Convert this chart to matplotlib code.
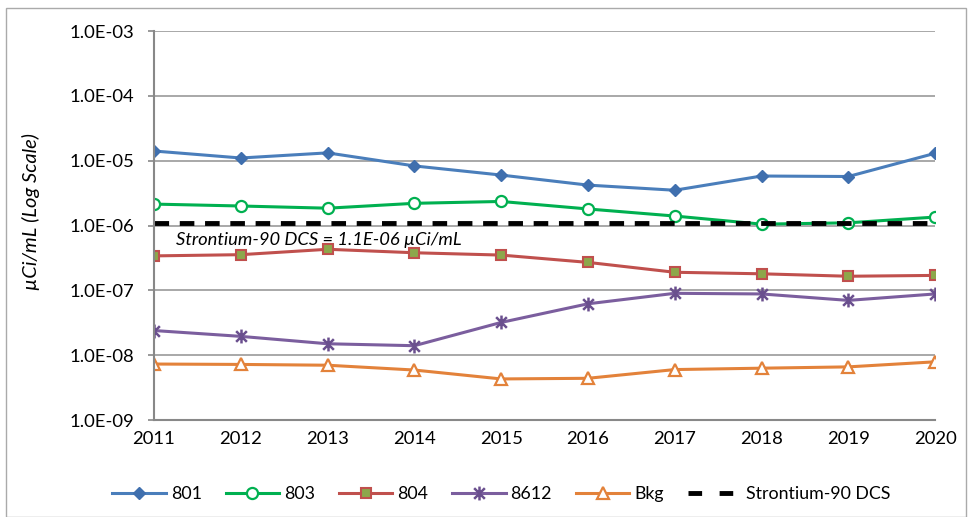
import matplotlib
matplotlib.use('Agg')
import matplotlib.pyplot as plt
from matplotlib.patches import Rectangle
from matplotlib.path import Path

# data
years = [2011, 2012, 2013, 2014, 2015, 2016, 2017, 2018, 2019, 2020]
s801 = [1.41e-5, 1.1e-5, 1.32e-5, 8.3e-6, 6.0e-6, 4.2e-6, 3.5e-6, 5.8e-6, 5.7e-6, 1.3e-5]
s803 = [2.14e-6, 2.0e-6, 1.85e-6, 2.2e-6, 2.35e-6, 1.8e-6, 1.4e-6, 1.05e-6, 1.1e-6, 1.35e-6]
s804 = [3.4e-7, 3.55e-7, 4.3e-7, 3.8e-7, 3.5e-7, 2.7e-7, 1.9e-7, 1.8e-7, 1.65e-7, 1.7e-7]
s8612 = [2.4e-8, 1.95e-8, 1.5e-8, 1.4e-8, 3.2e-8, 6.2e-8, 9.0e-8, 8.8e-8, 7.0e-8, 8.8e-8]
bkg = [7.3e-9, 7.2e-9, 7.0e-9, 5.9e-9, 4.3e-9, 4.4e-9, 6.0e-9, 6.3e-9, 6.6e-9, 7.9e-9]
dcs = 1.1e-6
yticks = [1e-9, 1e-8, 1e-7, 1e-6, 1e-5, 1e-4, 1e-3]
ytick_labels = ['1.0E-09', '1.0E-08', '1.0E-07', '1.0E-06', '1.0E-05', '1.0E-04', '1.0E-03']

plt.rcParams['font.family'] = ['Lato', 'DejaVu Sans']

# excel-like star: an x with a vertical bar through it
star = Path([(-1, -1), (1, 1), (-1, 1), (1, -1), (0, -1.3), (0, 1.3)],
            [Path.MOVETO, Path.LINETO, Path.MOVETO, Path.LINETO, Path.MOVETO, Path.LINETO])

fig = plt.figure(figsize=(9.7, 5.17), dpi=100)
ax = fig.add_axes([0.1588, 0.1876, 0.8052, 0.7524])

lw = 2.2
ax.plot(years, s801, color='#4A7EBB', lw=lw, marker='D', ms=6.5, mfc='#3F6FAE', mec='#3F6FAE', label='801')
ax.plot(years, s803, color='#00B050', lw=lw, marker='o', ms=8, mfc='white', mec='#00B050', mew=1.6, label='803')
ax.plot(years, s804, color='#C0504D', lw=lw, marker='s', ms=6.5, mfc='#8DA74B', mec='#C0504D', mew=1.5, label='804')
ax.plot(years, s8612, color='#7B5E9E', lw=lw, marker=star, ms=10, mec='#6A4F8E', mew=1.8, label='8612')
ax.plot(years, bkg, color='#E3823A', lw=lw, marker='^', ms=8, mfc='white', mec='#E3823A', mew=1.6, label='Bkg')
ax.plot(years, [dcs] * len(years), color='black', lw=3.5, ls=(0, (3, 2.2)), label='Strontium-90 DCS')

ax.text(2011.25, 6.0e-7, 'Strontium-90 DCS = 1.1E-06 \u00b5Ci/mL', fontsize=13.2, style='italic',
        va='center', ha='left')

ax.set_yscale('log')
ax.set_ylim(1e-9, 1e-3)
ax.set_xlim(2011, 2020)
ax.set_yticks(yticks)
ax.set_yticklabels(ytick_labels)
ax.minorticks_off()
ax.set_xticks(years)
ax.set_xticklabels([str(y) for y in years])
ax.tick_params(axis='both', labelsize=13.3, color='#888888', length=4, width=1.2)
ax.tick_params(axis='x', length=0, pad=8)
ax.tick_params(axis='y', pad=10)
ax.grid(axis='y', color='#999999', lw=1.2)
ax.set_axisbelow(True)
for s in ['top', 'right']:
    ax.spines[s].set_visible(False)
for s in ['left', 'bottom']:
    ax.spines[s].set_color('#888888')
    ax.spines[s].set_linewidth(1.5)

ax.set_ylabel('\u00b5Ci/mL (Log Scale)', fontsize=14.5, style='italic')
ax.yaxis.set_label_coords(-0.146, 0.535)

leg = fig.legend(loc='center', bbox_to_anchor=(0.517, 0.045), ncol=6, frameon=False,
                 fontsize=12.8, handlelength=3.0, columnspacing=1.35, handletextpad=0.28)
# two dashes in the legend handle like the original
leg.get_lines()[-1].set_linestyle((0, (2.8, 3.6)))

fig.patches.append(Rectangle((0.006, 0.0), 0.99, 0.985, transform=fig.transFigure,
                             fill=False, edgecolor='#AAAAAA', lw=1))

fig.savefig('out.png', dpi=100)
